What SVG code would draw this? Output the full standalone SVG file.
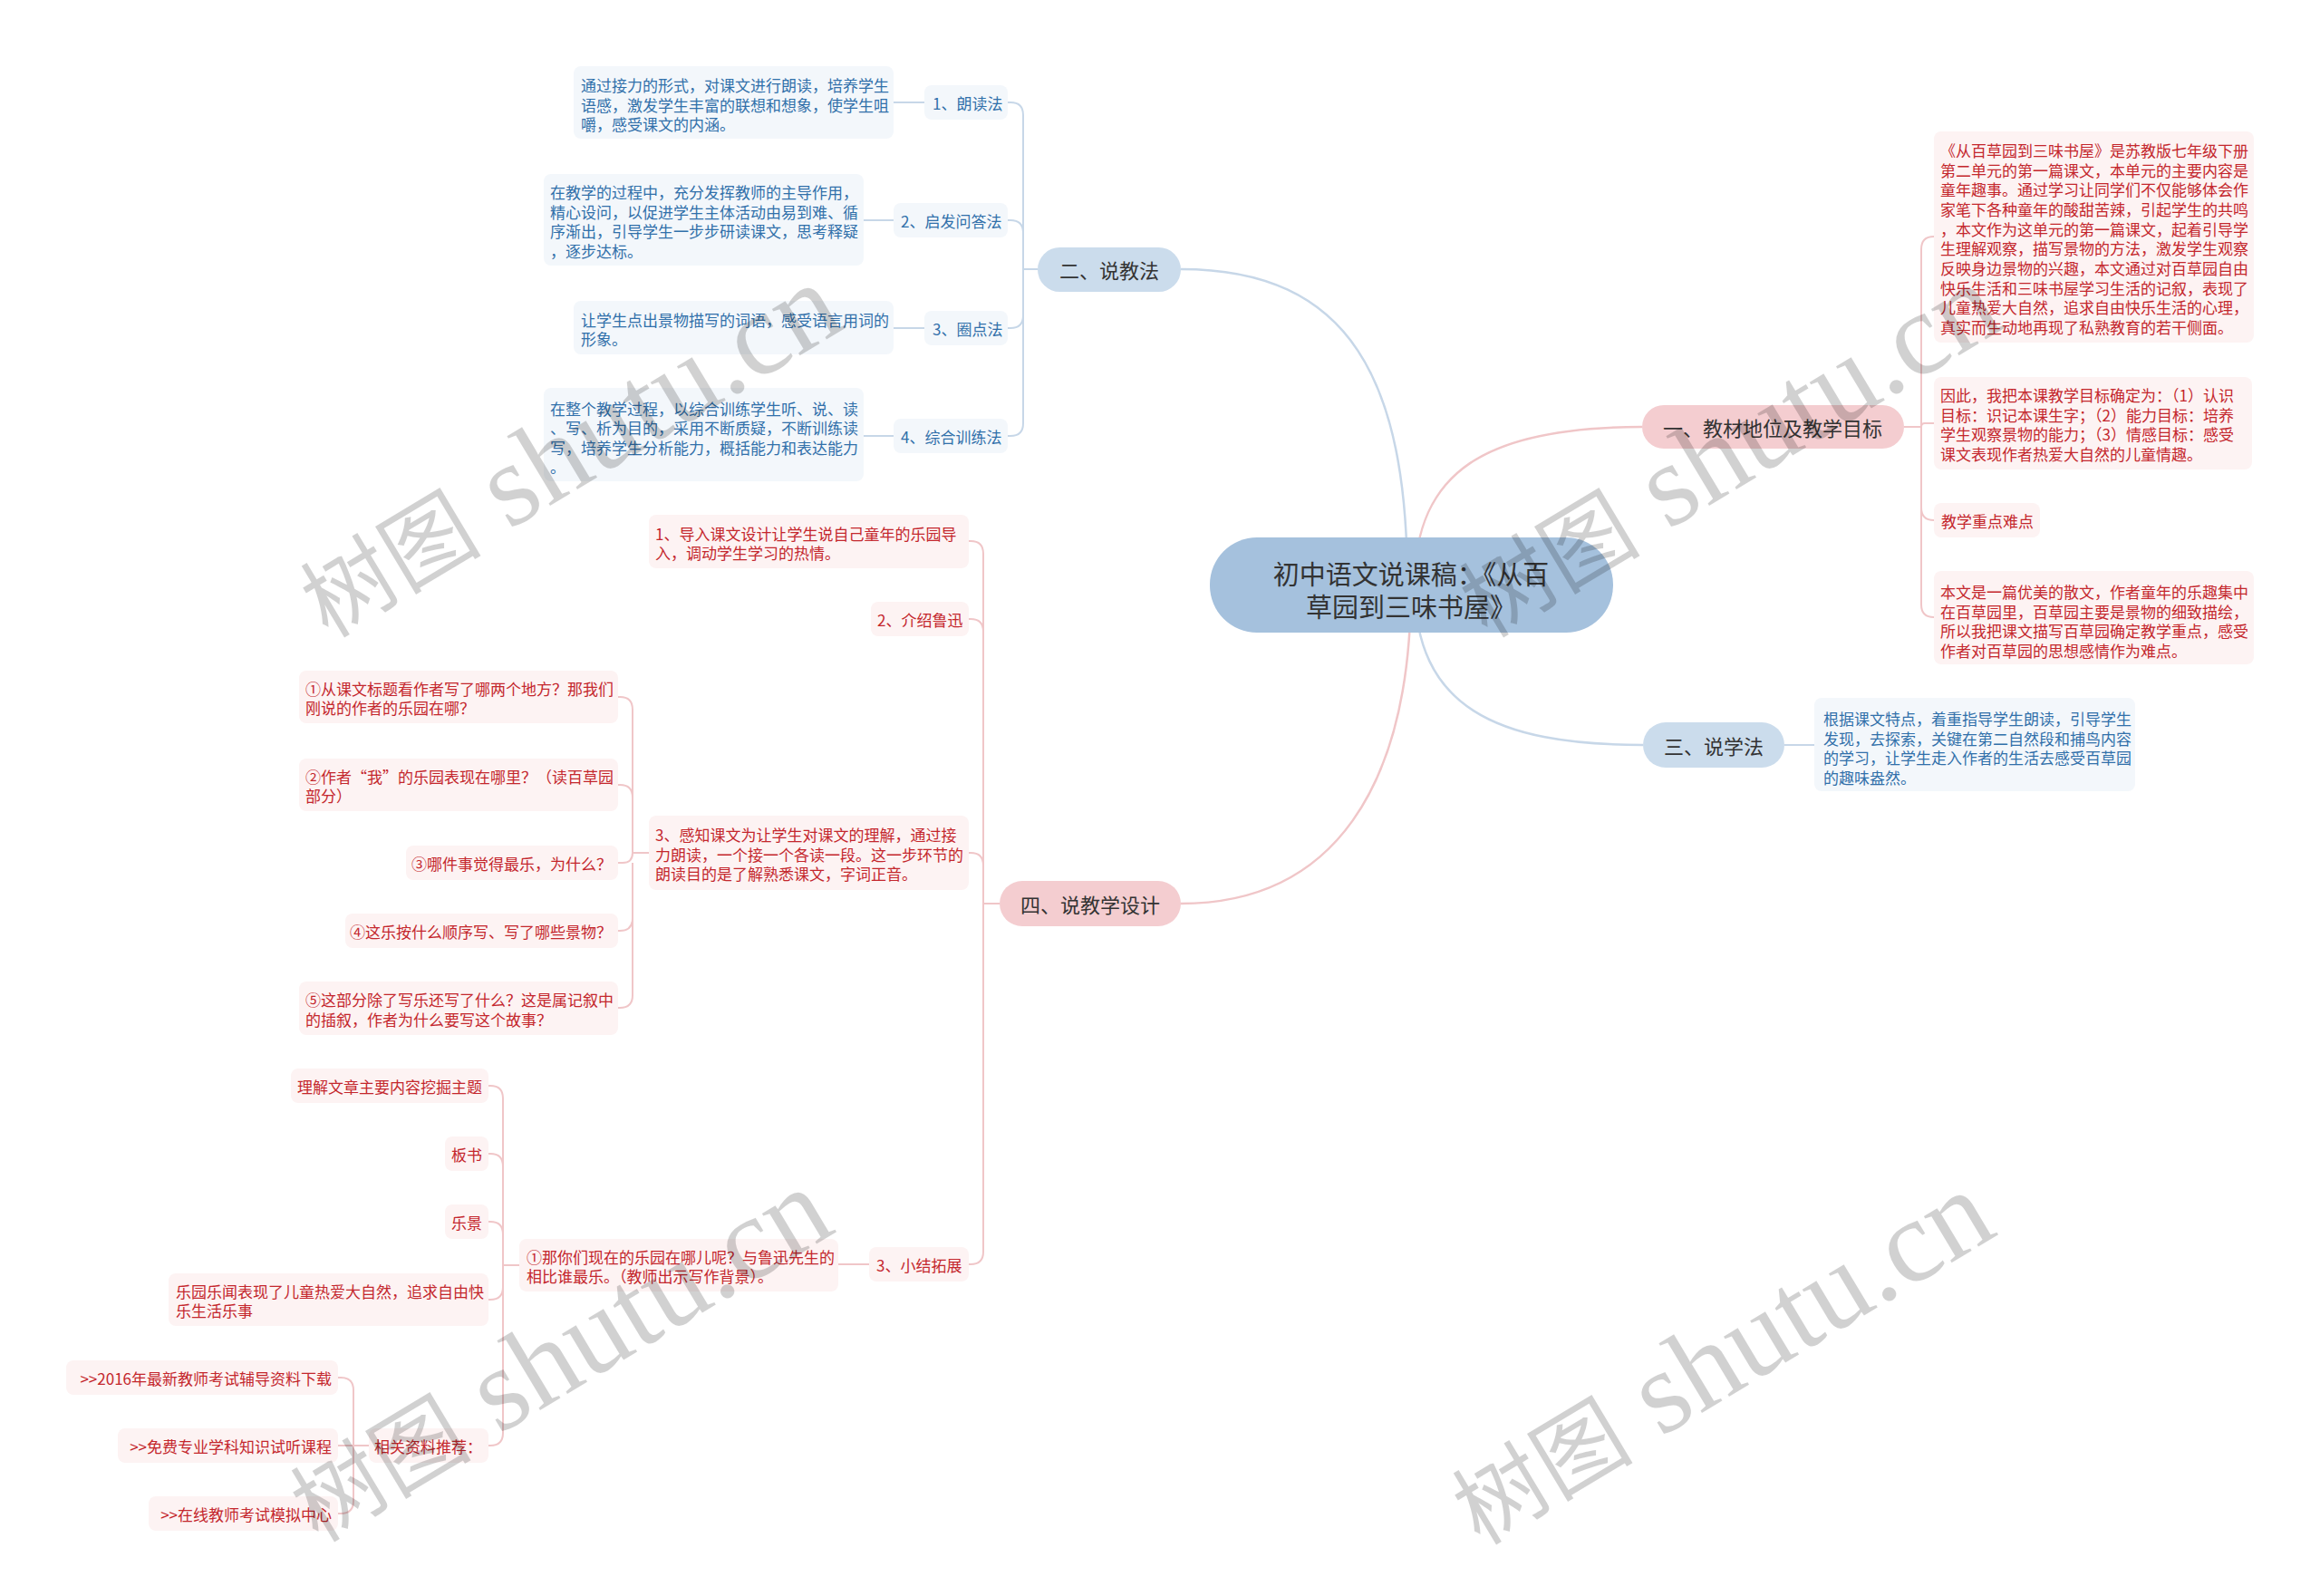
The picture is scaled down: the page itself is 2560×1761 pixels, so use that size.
<svg xmlns="http://www.w3.org/2000/svg" width="2560" height="1761" viewBox="0 0 2560 1761">
<style>
text{font-family:"Noto Sans CJK SC","Microsoft YaHei",sans-serif;dominant-baseline:central}
.lb{fill:#f3f7fb}
.lp{fill:#fdf3f3}
.tb{fill:#3170aa;font-size:17px}
.tp{fill:#c4272d;font-size:17px}
.n2b{fill:#cbdcec}
.n2p{fill:#f4cdd0}
.t2{fill:#333;font-size:22px;text-anchor:middle}
.cb{stroke:#c7d7e8;stroke-width:2.5;fill:none}
.cp{stroke:#f0c6c8;stroke-width:2.5;fill:none}
.cb2{stroke:#c7d7e8;stroke-width:2;fill:none}
.cp2{stroke:#f0c6c8;stroke-width:2;fill:none}
.wm{fill:#000;fill-opacity:0.18}
</style>
<rect width="2560" height="1761" fill="#fff"/>
<g id="connectors">
<path class="cb" d="M1553,645 C1553,420 1490,297 1303,297"/>
<path class="cp" d="M1561,645 C1561,520 1640,471 1812,471"/>
<path class="cb" d="M1561,645 C1561,780 1650,822 1813,822"/>
<path class="cp" d="M1557,645 C1557,870 1470,997 1303,997"/>
<path class="cb2" d="M1145,297 H1129 V127 Q1129,113 1115,113 H1112 M1129,297 V257 Q1129,243 1115,243 H1112 M1129,297 V348 Q1129,362 1115,362 H1112 M1129,348 V467 Q1129,481 1115,481 H1112"/>
<path class="cb2" d="M986,113 H1020 M953,243 H986 M986,362 H1020 M953,481 H986"/>
<path class="cp2" d="M2101,471 H2120 V275 Q2120,261 2134,261 M2120,471 Q2120,467 2124,467 H2134 M2120,471 V560 Q2120,574 2134,574 M2120,560 V667 Q2120,681 2134,681"/>
<path class="cb2" d="M1969,822 H2002"/>
<path class="cp2" d="M1103,997 H1085 V611 Q1085,597 1071,597 H1069 M1085,697 Q1085,683 1071,683 H1069 M1085,955 Q1085,941 1071,941 H1069 M1085,997 V1381 Q1085,1395 1071,1395 H1069"/>
<path class="cp2" d="M716,941 H698 V783 Q698,769 684,769 H682 M698,880 Q698,866 684,866 H682 M698,941 Q698,952 687,952 H682 M698,952 V1013 Q698,1027 684,1027 H682 M698,1013 V1098 Q698,1112 684,1112 H682"/>
<path class="cp2" d="M925,1395 H959"/>
<path class="cp2" d="M573,1396 H555 V1212 Q555,1198 541,1198 H539 M555,1287 Q555,1273 541,1273 H539 M555,1362 Q555,1348 541,1348 H539 M555,1396 V1420 Q555,1434 541,1434 H539 M555,1420 V1581 Q555,1595 541,1595 H539"/>
<path class="cp2" d="M407,1595 H390 V1534 Q390,1520 376,1520 H373 M390,1595 H373 M390,1595 V1656 Q390,1670 376,1670 H373"/>
</g>
<g id="root">
<rect x="1335" y="593" width="445" height="105" rx="52" fill="#a5c1dd"/>
<text x="1557" y="632" font-size="29" fill="#333" text-anchor="middle">初中语文说课稿：《从百</text>
<text x="1557" y="668" font-size="29" fill="#333" text-anchor="middle">草园到三味书屋》</text>
</g>
<g id="n-er">
<rect class="n2b" x="1145" y="273" width="158" height="49" rx="24.5"/>
<text class="t2" x="1224" y="297">二、说教法</text>
</g>
<g id="n-er-1">
<rect class="lb" x="1020" y="94" width="92" height="38" rx="8"/>
<text class="tb" x="1029" y="113">1、朗读法</text>
</g>
<g id="n-er-1a">
<rect class="lb" x="633" y="73" width="353" height="80" rx="8"/>
<text class="tb"><tspan x="641" y="93">通过接力的形式，对课文进行朗读，培养学生</tspan><tspan x="641" y="114.5">语感，激发学生丰富的联想和想象，使学生咀</tspan><tspan x="641" y="136">嚼，感受课文的内涵。</tspan></text>
</g>
<g id="n-er-2">
<rect class="lb" x="986" y="224" width="126" height="38" rx="8"/>
<text class="tb" x="994" y="243">2、启发问答法</text>
</g>
<g id="n-er-2a">
<rect class="lb" x="600" y="192" width="353" height="101" rx="8"/>
<text class="tb"><tspan x="607" y="211">在教学的过程中，充分发挥教师的主导作用，</tspan><tspan x="607" y="232.5">精心设问，以促进学生主体活动由易到难、循</tspan><tspan x="607" y="254">序渐出，引导学生一步步研读课文，思考释疑</tspan><tspan x="607" y="275.5">，逐步达标。</tspan></text>
</g>
<g id="n-er-3">
<rect class="lb" x="1020" y="343" width="92" height="38" rx="8"/>
<text class="tb" x="1029" y="362">3、圈点法</text>
</g>
<g id="n-er-3a">
<rect class="lb" x="633" y="332" width="353" height="59" rx="8"/>
<text class="tb"><tspan x="641" y="352">让学生点出景物描写的词语，感受语言用词的</tspan><tspan x="641" y="373">形象。</tspan></text>
</g>
<g id="n-er-4">
<rect class="lb" x="986" y="462" width="126" height="38" rx="8"/>
<text class="tb" x="994" y="481">4、综合训练法</text>
</g>
<g id="n-er-4a">
<rect class="lb" x="600" y="428" width="353" height="103" rx="8"/>
<text class="tb"><tspan x="607" y="450">在整个教学过程，以综合训练学生听、说、读</tspan><tspan x="607" y="471">、写、析为目的，采用不断质疑，不断训练读</tspan><tspan x="607" y="492.5">写，培养学生分析能力，概括能力和表达能力</tspan><tspan x="607" y="514">。</tspan></text>
</g>
<g id="n-yi">
<rect class="n2p" x="1812" y="447" width="289" height="48" rx="24"/>
<text class="t2" x="1956" y="471">一、教材地位及教学目标</text>
</g>
<g id="n-yi-1">
<rect class="lp" x="2134" y="145" width="353" height="233" rx="8"/>
<text class="tp"><tspan x="2141" y="165">《从百草园到三味书屋》是苏教版七年级下册</tspan><tspan x="2141" y="186.7">第二单元的第一篇课文，本单元的主要内容是</tspan><tspan x="2141" y="208.3">童年趣事。通过学习让同学们不仅能够体会作</tspan><tspan x="2141" y="230">家笔下各种童年的酸甜苦辣，引起学生的共鸣</tspan><tspan x="2141" y="251.7">，本文作为这单元的第一篇课文，起着引导学</tspan><tspan x="2141" y="273.3">生理解观察，描写景物的方法，激发学生观察</tspan><tspan x="2141" y="295">反映身边景物的兴趣，本文通过对百草园自由</tspan><tspan x="2141" y="316.7">快乐生活和三味书屋学习生活的记叙，表现了</tspan><tspan x="2141" y="338.3">儿童热爱大自然，追求自由快乐生活的心理，</tspan><tspan x="2141" y="360">真实而生动地再现了私熟教育的若干侧面。</tspan></text>
</g>
<g id="n-yi-2">
<rect class="lp" x="2134" y="416" width="351" height="102" rx="8"/>
<text class="tp"><tspan x="2141" y="435">因此，我把本课教学目标确定为：（1）认识</tspan><tspan x="2141" y="456.5">目标：识记本课生字；（2）能力目标：培养</tspan><tspan x="2141" y="478">学生观察景物的能力；（3）情感目标：感受</tspan><tspan x="2141" y="499.5">课文表现作者热爱大自然的儿童情趣。</tspan></text>
</g>
<g id="n-yi-3">
<rect class="lp" x="2134" y="555" width="117" height="38" rx="8"/>
<text class="tp" x="2142" y="574">教学重点难点</text>
</g>
<g id="n-yi-4">
<rect class="lp" x="2134" y="630" width="353" height="103" rx="8"/>
<text class="tp"><tspan x="2141" y="652">本文是一篇优美的散文，作者童年的乐趣集中</tspan><tspan x="2141" y="673.5">在百草园里，百草园主要是景物的细致描绘，</tspan><tspan x="2141" y="695">所以我把课文描写百草园确定教学重点，感受</tspan><tspan x="2141" y="716.5">作者对百草园的思想感情作为难点。</tspan></text>
</g>
<g id="n-san">
<rect class="n2b" x="1813" y="797" width="156" height="50" rx="25"/>
<text class="t2" x="1891" y="822">三、说学法</text>
</g>
<g id="n-san-1">
<rect class="lb" x="2002" y="770" width="354" height="103" rx="8"/>
<text class="tb"><tspan x="2012" y="792">根据课文特点，着重指导学生朗读，引导学生</tspan><tspan x="2012" y="813.5">发现，去探索，关键在第二自然段和捕鸟内容</tspan><tspan x="2012" y="835">的学习，让学生走入作者的生活去感受百草园</tspan><tspan x="2012" y="856.5">的趣味盎然。</tspan></text>
</g>
<g id="n-si">
<rect class="n2p" x="1103" y="972" width="200" height="50" rx="25"/>
<text class="t2" x="1203" y="997">四、说教学设计</text>
</g>
<g id="n-si-1">
<rect class="lp" x="716" y="568" width="353" height="59" rx="8"/>
<text class="tp"><tspan x="723" y="588">1、导入课文设计让学生说自己童年的乐园导</tspan><tspan x="723" y="609">入，调动学生学习的热情。</tspan></text>
</g>
<g id="n-si-2">
<rect class="lp" x="961" y="664" width="108" height="38" rx="8"/>
<text class="tp" x="968" y="683">2、介绍鲁迅</text>
</g>
<g id="n-si-3">
<rect class="lp" x="716" y="900" width="353" height="82" rx="8"/>
<text class="tp"><tspan x="723" y="920">3、感知课文为让学生对课文的理解，通过接</tspan><tspan x="723" y="941.5">力朗读，一个接一个各读一段。这一步环节的</tspan><tspan x="723" y="963">朗读目的是了解熟悉课文，字词正音。</tspan></text>
</g>
<g id="n-si-3-1">
<rect class="lp" x="330" y="740" width="352" height="58" rx="8"/>
<text class="tp"><tspan x="337" y="759">①从课文标题看作者写了哪两个地方？那我们</tspan><tspan x="337" y="780">刚说的作者的乐园在哪？</tspan></text>
</g>
<g id="n-si-3-2">
<rect class="lp" x="330" y="837" width="352" height="58" rx="8"/>
<text class="tp"><tspan x="337" y="856">②作者“我”的乐园表现在哪里？（读百草园</tspan><tspan x="337" y="877">部分）</tspan></text>
</g>
<g id="n-si-3-3">
<rect class="lp" x="448" y="933" width="234" height="38" rx="8"/>
<text class="tp" x="675" y="952" text-anchor="end">③哪件事觉得最乐，为什么？</text>
</g>
<g id="n-si-3-4">
<rect class="lp" x="381" y="1008" width="301" height="38" rx="8"/>
<text class="tp" x="675" y="1027" text-anchor="end">④这乐按什么顺序写、写了哪些景物？</text>
</g>
<g id="n-si-3-5">
<rect class="lp" x="330" y="1083" width="352" height="59" rx="8"/>
<text class="tp"><tspan x="337" y="1102">⑤这部分除了写乐还写了什么？这是属记叙中</tspan><tspan x="337" y="1124">的插叙，作者为什么要写这个故事？</tspan></text>
</g>
<g id="n-si-4">
<rect class="lp" x="959" y="1376" width="110" height="38" rx="8"/>
<text class="tp" x="967" y="1395">3、小结拓展</text>
</g>
<g id="n-si-4-1">
<rect class="lp" x="573" y="1367" width="352" height="58" rx="8"/>
<text class="tp"><tspan x="581" y="1386">①那你们现在的乐园在哪儿呢？与鲁迅先生的</tspan><tspan x="581" y="1407">相比谁最乐。（教师出示写作背景）。</tspan></text>
</g>
<g id="n-s1">
<rect class="lp" x="321" y="1179" width="218" height="38" rx="8"/>
<text class="tp" x="532" y="1198" text-anchor="end">理解文章主要内容挖掘主题</text>
</g>
<g id="n-s2">
<rect class="lp" x="491" y="1254" width="48" height="38" rx="8"/>
<text class="tp" x="532" y="1273" text-anchor="end">板书</text>
</g>
<g id="n-s3">
<rect class="lp" x="491" y="1329" width="48" height="38" rx="8"/>
<text class="tp" x="532" y="1348" text-anchor="end">乐景</text>
</g>
<g id="n-s4">
<rect class="lp" x="186" y="1405" width="353" height="58" rx="8"/>
<text class="tp"><tspan x="194" y="1424">乐园乐闻表现了儿童热爱大自然，追求自由快</tspan><tspan x="194" y="1445">乐生活乐事</tspan></text>
</g>
<g id="n-s5">
<rect class="lp" x="407" y="1576" width="132" height="38" rx="8"/>
<text class="tp" x="532" y="1595" text-anchor="end">相关资料推荐：</text>
</g>
<g id="n-r1">
<rect class="lp" x="73" y="1501" width="300" height="38" rx="8"/>
<text class="tp" x="366" y="1520" text-anchor="end">&gt;&gt;2016年最新教师考试辅导资料下载</text>
</g>
<g id="n-r2">
<rect class="lp" x="130" y="1576" width="243" height="38" rx="8"/>
<text class="tp" x="366" y="1595" text-anchor="end">&gt;&gt;免费专业学科知识试听课程</text>
</g>
<g id="n-r3">
<rect class="lp" x="164" y="1651" width="209" height="38" rx="8"/>
<text class="tp" x="366" y="1670" text-anchor="end">&gt;&gt;在线教师考试模拟中心</text>
</g>
<g id="watermarks" class="wm">
<text transform="translate(362,705) rotate(-31)" style="dominant-baseline:alphabetic"><tspan font-size="100">树图</tspan><tspan font-size="130" font-family="Liberation Serif"> shutu.cn</tspan></text>
<text transform="translate(1641,705) rotate(-31)" style="dominant-baseline:alphabetic"><tspan font-size="100">树图</tspan><tspan font-size="130" font-family="Liberation Serif"> shutu.cn</tspan></text>
<text transform="translate(351,1703) rotate(-31)" style="dominant-baseline:alphabetic"><tspan font-size="100">树图</tspan><tspan font-size="130" font-family="Liberation Serif"> shutu.cn</tspan></text>
<text transform="translate(1633,1706) rotate(-31)" style="dominant-baseline:alphabetic"><tspan font-size="100">树图</tspan><tspan font-size="130" font-family="Liberation Serif"> shutu.cn</tspan></text>
</g>
</svg>
